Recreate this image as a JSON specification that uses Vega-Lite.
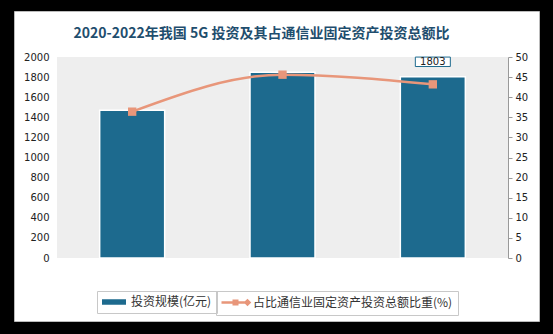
{
  "$schema": "https://vega.github.io/schema/vega-lite/v6.json",
  "autosize": "none",
  "width": 525,
  "height": 310,
  "padding": {"left": 14, "right": 14, "top": 11, "bottom": 13},
  "background": "#000000",
  "config": {
    "view": {"fill": "#ffffff", "stroke": "#bbbbbb", "strokeWidth": 1},
    "font": "Noto Sans CJK SC",
    "axis": {"labelOverlap": false, "labelSeparation": 0, "labelBound": false}
  },
  "title": {
    "text": "2020-2022年我国 5G 投资及其占通信业固定资产投资总额比",
    "fontSize": 14,
    "fontWeight": "bold",
    "color": "#1F4E6E",
    "font": "Noto Sans CJK SC",
    "anchor": "middle",
    "frame": "group",
    "dx": -15,
    "offset": -30
  },
  "data": {
    "values": [
      {"year": 2020, "invest": 1470, "ratio": 36.4},
      {"year": 2021, "invest": 1849, "ratio": 45.6},
      {"year": 2022, "invest": 1803, "ratio": 43.2}
    ]
  },
  "layer": [
    {
      "mark": {"type": "rect", "fill": "#eeeeee"},
      "encoding": {
        "x": {"datum": 2019.5, "type": "quantitative", "scale": {"domain": [2019.5, 2022.5], "range": [43, 494], "padding": 0, "nice": false, "zero": false}, "axis": null},
        "x2": {"datum": 2022.5},
        "y": {"datum": 0, "type": "quantitative", "scale": {"domain": [0, 2000], "range": [247, 46], "nice": false}, "axis": null},
        "y2": {"datum": 2000}
      }
    },
    {
      "layer": [
        {
          "mark": {"type": "bar", "width": 65, "stroke": "#ffffff", "strokeWidth": 1.5},
          "encoding": {
            "x": {"field": "year", "type": "quantitative", "scale": {"domain": [2019.5, 2022.5], "range": [43, 494], "padding": 0, "nice": false, "zero": false},
              "axis": {"title": null, "values": [2020, 2021, 2022], "labelExpr": "datum.value + '年'", "ticks": false,
                "domain": true, "domainColor": "#999999", "labelPadding": 10, "labelFontSize": 10, "labelFont": "DejaVu Sans",
                "labelColor": "#222222", "grid": false, "offset": -63}},
            "y": {"field": "invest", "type": "quantitative", "scale": {"domain": [0, 2000], "range": [247, 46], "nice": false},
              "axis": {"title": null, "values": [0,200,400,600,800,1000,1200,1400,1600,1800,2000], "tickCount": 11, "format": "d", "labelOverlap": false, "ticks": false, "domain": false,
                "grid": false, "labelPadding": 8, "labelFontSize": 10, "labelFont": "DejaVu Sans", "labelColor": "#222222", "offset": -43}},
            "fill": {"datum": "投资规模(亿元)", "type": "nominal",
              "scale": {"domain": ["投资规模(亿元)"], "range": ["#1D6A8E"]},
              "legend": {
                "orient": "none", "legendX": 83, "legendY": 280, "direction": "horizontal", "title": null,
                "labelFontSize": 12, "labelColor": "#333333", "labelFont": "Noto Sans CJK SC", "labelLimit": 400,
                "symbolType": "M-1.2,-0.55H3.6V0.55H-1.2Z", "symbolSize": 100, "symbolStrokeWidth": 0,
                "labelOffset": 17, "padding": 5, "strokeColor": "#c8c8c8", "fillColor": "#ffffff"
              }}
          }
        },
        {
          "transform": [{"filter": "datum.year == 2022"}],
          "mark": {"type": "point", "shape": "M-1,-0.27H1V0.27H-1Z", "size": 1225, "filled": true, "fill": "#ffffff", "stroke": "#1D6A8E", "strokeWidth": 1, "opacity": 1, "yOffset": -15},
          "encoding": {
            "x": {"field": "year", "type": "quantitative"},
            "y": {"field": "invest", "type": "quantitative"}
          }
        },
        {
          "transform": [{"filter": "datum.year == 2022"}],
          "mark": {"type": "text", "fontSize": 10, "color": "#222222", "font": "DejaVu Sans", "yOffset": -15, "baseline": "middle"},
          "encoding": {
            "x": {"field": "year", "type": "quantitative"},
            "y": {"field": "invest", "type": "quantitative"},
            "text": {"field": "invest", "type": "quantitative", "format": "d"}
          }
        }
      ]
    },
    {
      "layer": [
        {
          "mark": {"type": "line", "interpolate": "monotone", "strokeWidth": 2.5},
          "encoding": {
            "x": {"field": "year", "type": "quantitative"},
            "y": {"field": "ratio", "type": "quantitative", "scale": {"domain": [0, 50], "range": [247, 46], "nice": false},
              "axis": {"orient": "right", "title": null, "values": [0,5,10,15,20,25,30,35,40,45,50], "tickCount": 11, "labelOverlap": false, "ticks": true, "tickSize": 4,
                "tickColor": "#999999", "domain": true, "domainColor": "#999999", "grid": false, "labelPadding": 3,
                "labelFontSize": 10, "labelFont": "DejaVu Sans", "labelColor": "#222222", "offset": -31}},
            "stroke": {"datum": "占比通信业固定资产投资总额比重(%)", "type": "nominal",
              "scale": {"domain": ["占比通信业固定资产投资总额比重(%)"], "range": ["#E8967A"]},
              "legend": {
                "orient": "none", "legendX": 202, "legendY": 280, "direction": "horizontal", "title": null,
                "labelFontSize": 12, "labelColor": "#333333", "labelFont": "Noto Sans CJK SC", "labelLimit": 400,
                "symbolType": "M-1.2,0H4.4M1.25,-0.35H1.95V0.35H1.25Z M3.6,0L4.0,-0.4L4.4,0L4.0,0.4Z", "symbolSize": 100, "symbolStrokeWidth": 2.5,
                "labelOffset": 19, "padding": 5, "strokeColor": "#c8c8c8", "fillColor": "transparent"
              }}
          }
        },
        {
          "mark": {"type": "point", "shape": "square", "filled": true, "size": 70, "opacity": 1, "color": "#E8967A"},
          "encoding": {
            "x": {"field": "year", "type": "quantitative"},
            "y": {"field": "ratio", "type": "quantitative"}
          }
        }
      ]
    }
  ],
  "resolve": {"scale": {"y": "independent"}}
}
